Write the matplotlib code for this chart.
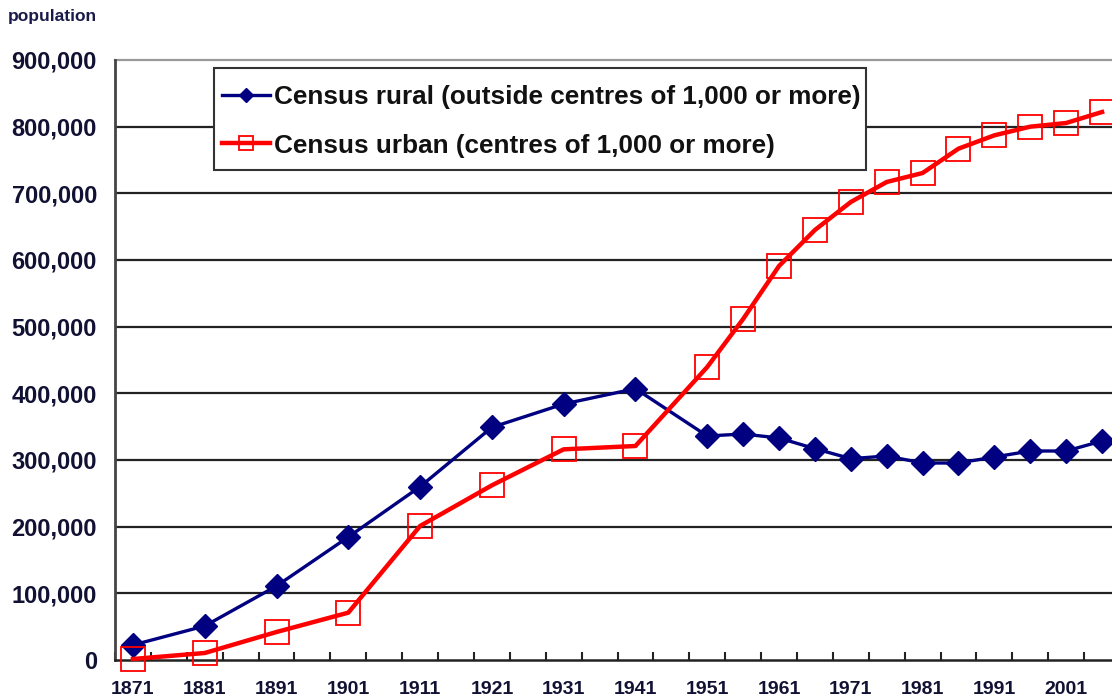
import matplotlib
matplotlib.use("Agg")
import matplotlib.pyplot as plt
from matplotlib.patches import Rectangle
from matplotlib.ticker import FuncFormatter, FixedLocator

years = [1871, 1881, 1891, 1901, 1911, 1921, 1931, 1941, 1951, 1956, 1961,
         1966, 1971, 1976, 1981, 1986, 1991, 1996, 2001, 2006]
rural = [22500, 51000, 111000, 184500, 260000, 349000, 384000, 407000, 336000,
         339000, 333000, 317000, 302000, 306000, 295500, 295500, 304500,
         313500, 313500, 328500]
urban = [1500, 10500, 42000, 71000, 201000, 262000, 316000, 321000, 439500,
         511500, 591000, 645000, 687000, 717000, 730500, 767000, 787000,
         800000, 805500, 822000]
label_years = [1871, 1881, 1891, 1901, 1911, 1921, 1931, 1941, 1951, 1961,
               1971, 1981, 1991, 2001]
y_ticks = [0, 100000, 200000, 300000, 400000, 500000, 600000, 700000, 800000, 900000]
rural_label = "Census rural (outside centres of 1,000 or more)"
urban_label = "Census urban (centres of 1,000 or more)"

plt.rcParams['font.family'] = ['Liberation Sans', 'DejaVu Sans']
plt.rcParams['font.weight'] = 'bold'

W, H = 1112, 698
fig = plt.figure(figsize=(W / 100, H / 100), dpi=100)
ax = fig.add_axes([115/W, 38/H, 1005/W, 600/H])

ax.set_xlim(1868.5, 2008.5)
ax.set_ylim(0, 900000)

# gridlines
for v in y_ticks[1:-1]:
    ax.axhline(v, color='#222222', lw=1.6, zorder=1)
ax.axhline(900000, color='#999999', lw=1.6, zorder=1, clip_on=False)

ax.plot(years, rural, color='#000080', lw=2.4, marker='D', markersize=12.5,
        markerfacecolor='#000080', markeredgecolor='#000080', label=rural_label,
        zorder=3, clip_on=False)
ax.plot(years, urban, color='#ff0000', lw=3.2, marker='s', markersize=17,
        markerfacecolor='none', markeredgecolor='#ff0000', markeredgewidth=1.3,
        label=urban_label, zorder=4, clip_on=False)

for s in ['top', 'right']:
    ax.spines[s].set_visible(False)
ax.spines['left'].set_color('#444444')
ax.spines['left'].set_linewidth(2)
ax.spines['bottom'].set_color('#222222')
ax.spines['bottom'].set_linewidth(1.8)

ax.set_yticks(y_ticks)
ax.yaxis.set_major_formatter(FuncFormatter(lambda v, p: f"{int(v):,}"))
ax.tick_params(axis='y', length=0, pad=13, labelsize=17, labelcolor='#111133')

ax.xaxis.set_major_locator(FixedLocator(label_years))
ax.xaxis.set_minor_locator(FixedLocator([1868.5 + 5 * i for i in range(29)]))
ax.tick_params(axis='x', which='major', length=0, pad=15, labelsize=14,
               labelcolor='#111133')
ax.tick_params(axis='x', which='minor', direction='in', length=6, width=1.5,
               color='#222222')
for lab in ax.get_xticklabels() + ax.get_yticklabels():
    lab.set_fontweight('bold')

# legend box (frame drawn separately for asymmetric padding)
box = Rectangle((214/W, 1 - 170/H), (866 - 214)/W, (170 - 68)/H,
                transform=fig.transFigure, facecolor='white',
                edgecolor='#333333', linewidth=1.5, zorder=9)
fig.add_artist(box)

leg = fig.legend(*ax.get_legend_handles_labels(), loc='upper left',
                 bbox_to_anchor=(222/W, 1 - 85/H),
                 frameon=False, fontsize=18.8,
                 handlelength=1.85, handletextpad=0.15, borderpad=0,
                 labelspacing=0.94, borderaxespad=0, markerscale=0.6)
leg.set_zorder(10)
for t in leg.get_texts():
    t.set_fontweight('bold')
    t.set_color('#111111')

fig.text(8/W, 1 - 17/H, "population", fontsize=12.5, fontweight='bold',
         color='#1a1a4a', va='center', ha='left')

fig.savefig("out.png", dpi=100)
